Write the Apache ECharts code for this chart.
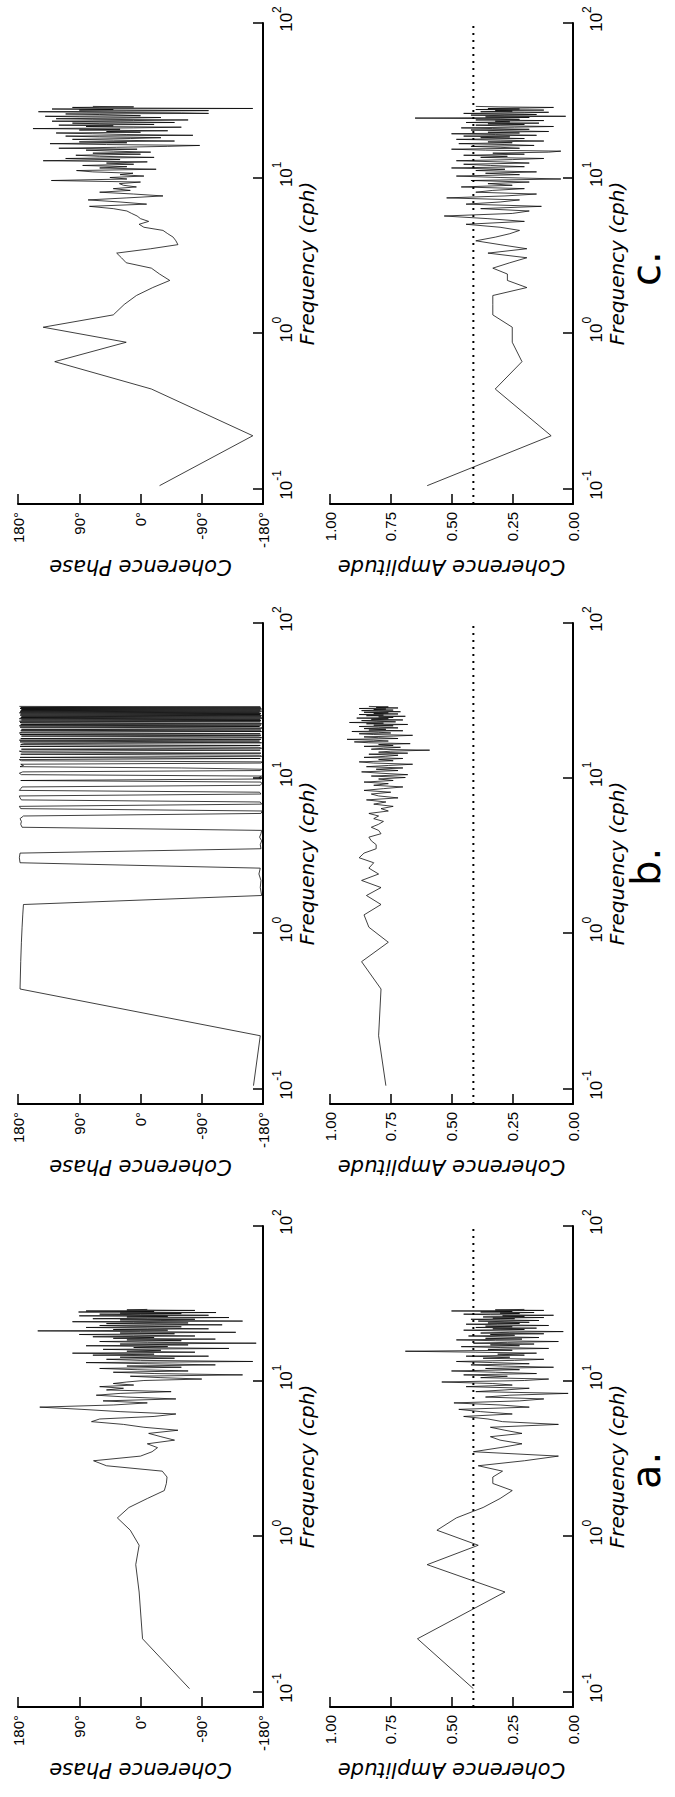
<!DOCTYPE html>
<html><head><meta charset="utf-8">
<script src="https://cdn.jsdelivr.net/npm/echarts@6/dist/echarts.min.js"></script>
<style>
html,body{margin:0;padding:0;width:675px;height:1797px;overflow:hidden;background:#fff;}
#rot{position:absolute;left:0;top:0;width:1797px;height:675px;transform-origin:0 0;transform:translateY(1797px) rotate(-90deg);}
#chart{width:1797px;height:675px;background:#fff;}
</style></head><body>
<div id="rot"><div id="chart"></div></div>
<script>
// ---- data (frequency in cph) ----
const freq = [0.105,0.22,0.44,0.66,0.88,1.10,1.32,1.54,1.76,1.98,
2.20,2.42,2.64,2.86,3.08,3.30,3.52,3.74,3.96,4.18,
4.40,4.62,4.84,5.06,5.28,5.50,5.72,5.94,6.16,6.38,
6.60,6.82,7.04,7.26,7.48,7.70,7.92,8.14,8.36,8.58,
8.80,9.02,9.24,9.46,9.68,9.90,10.12,10.34,10.56,10.78,
11.00,11.22,11.44,11.66,11.88,12.10,12.32,12.54,12.76,12.98,
13.20,13.42,13.64,13.86,14.08,14.30,14.52,14.74,14.96,15.18,
15.40,15.62,15.84,16.06,16.28,16.50,16.72,16.94,17.16,17.38,
17.60,17.82,18.04,18.26,18.48,18.70,18.92,19.14,19.36,19.58,
19.80,20.02,20.24,20.46,20.68,20.90,21.12,21.34,21.56,21.78,
22.00,22.22,22.44,22.66,22.88,23.10,23.32,23.54,23.76,23.98,
24.20,24.42,24.64,24.86,25.08,25.30,25.52,25.74,25.96,26.18,
26.40,26.62,26.84,27.06,27.28,27.50,27.72,27.94,28.16,28.38,
28.60,28.82,29.04];

const phaseA = [-72,-3,2,7,2,15,34,17,-10,-35,
-38,-39,-32,50,69,0,-17,-25,-10,-50,
-30,-12,-55,-5,25,72,60,-20,-52,30,
86,148,40,-10,55,-52,20,65,30,-45,
50,25,60,10,40,20,-5,-90,-30,15,
-150,-20,40,-70,5,60,-60,20,-110,-10,
80,-165,0,50,-50,30,-100,70,-20,100,
-80,20,-30,55,-130,10,-40,80,-70,30,
-170,-10,60,-60,20,-110,40,-20,70,-80,
10,90,-50,30,-140,0,151,-40,40,-100,
-10,80,-60,20,60,-120,-20,50,-70,10,
100,-150,-30,30,-80,70,-10,-130,20,-40,
90,-100,0,60,-60,30,-111,91,-20,80,
-80,20,-10];

const ampA = [0.41,0.64,0.28,0.60,0.39,0.56,0.48,0.37,0.30,0.25,
0.33,0.33,0.29,0.39,0.20,0.06,0.41,0.30,0.21,0.30,
0.34,0.21,0.28,0.34,0.06,0.29,0.35,0.45,0.25,0.38,
0.47,0.18,0.30,0.49,0.22,0.12,0.36,0.26,0.02,0.40,
0.28,0.18,0.44,0.25,0.33,0.54,0.20,0.10,0.38,0.27,
0.45,0.15,0.32,0.50,0.22,0.36,0.08,0.29,0.42,0.18,
0.33,0.48,0.24,0.12,0.37,0.26,0.44,0.20,0.31,0.15,
0.40,0.69,0.25,0.35,0.10,0.30,0.46,0.22,0.34,0.16,
0.41,0.27,0.06,0.32,0.48,0.21,0.36,0.14,0.30,0.43,
0.24,0.34,0.12,0.38,0.26,0.04,0.30,0.45,0.20,0.33,
0.15,0.40,0.25,0.36,0.10,0.31,0.44,0.22,0.35,0.18,
0.28,0.39,0.14,0.30,0.42,0.24,0.33,0.12,0.37,0.20,
0.29,0.08,0.34,0.45,0.22,0.30,0.16,0.38,0.25,0.50,
0.12,0.32,0.20];

const phaseB = [-166,-176,177,176,175,174,173,172,-178,-176,
-177,-174,-176,177,178,177,-177,-176,-178,-175,
-177,-178,174,176,175,177,172,-177,-179,176,
178,-178,-176,175,177,178,-177,-175,178,176,
174,-176,-178,-177,176,-177,-174,-178,175,178,
173,-176,-178,-60,177,172,176,-177,-179,175,
178,-176,177,-178,-175,176,-177,174,178,-176,
175,-178,-173,177,-176,176,172,-178,177,-175,
178,-177,176,-178,-174,175,-177,177,-176,178,
174,-178,176,-177,175,-176,-179,177,-175,178,
-177,176,-178,174,177,-176,178,-177,175,-176,
178,-179,176,-177,175,-178,177,-176,176,-177,
178,-175,177,-178,176,-176,175,-178,177,-177,
176,-176,178];

const ampB = [0.77,0.80,0.79,0.87,0.76,0.84,0.86,0.79,0.85,0.79,
0.87,0.80,0.84,0.82,0.88,0.86,0.81,0.81,0.83,0.84,
0.79,0.80,0.83,0.80,0.78,0.82,0.80,0.84,0.76,0.79,
0.74,0.82,0.77,0.85,0.72,0.80,0.83,0.75,0.86,0.78,
0.70,0.82,0.76,0.86,0.74,0.80,0.69,0.83,0.68,0.79,
0.87,0.72,0.81,0.70,0.85,0.76,0.66,0.82,0.88,0.74,
0.80,0.70,0.86,0.77,0.72,0.84,0.68,0.80,0.75,0.59,
0.83,0.78,0.71,0.86,0.74,0.80,0.67,0.84,0.90,0.76,
0.82,0.93,0.72,0.80,0.86,0.74,0.66,0.82,0.88,0.75,
0.80,0.91,0.70,0.84,0.77,0.86,0.72,0.80,0.88,0.74,
0.82,0.68,0.85,0.78,0.92,0.73,0.81,0.87,0.70,0.83,
0.76,0.89,0.74,0.80,0.69,0.85,0.78,0.88,0.72,0.82,
0.76,0.86,0.71,0.80,0.87,0.74,0.82,0.77,0.88,0.72,
0.81,0.76,0.84];

const phaseC = [-28,-165,-16,126,21,143,40,24,6,-18,
-43,-28,-16,21,28,35,-15,-55,-52,-48,
-40,-33,-5,2,-12,0,5,13,20,40,
75,-9,30,77,20,-33,10,60,15,40,
6,25,31,0,131,20,45,-5,30,11,
70,94,-23,60,20,85,10,50,-10,143,
30,110,-20,60,95,0,70,-15,40,80,
5,120,35,-40,-87,50,133,20,90,-50,
40,100,15,-30,60,110,-77,20,70,124,
0,50,-40,90,30,158,10,-60,80,40,
120,-20,60,100,-50,30,130,10,-70,70,
124,20,-30,90,140,0,0,60,110,-100,
-60,80,150,20,-100,90,40,130,-165,60,
100,10,70];

const ampC = [0.60,0.09,0.32,0.21,0.25,0.25,0.33,0.33,0.33,0.19,
0.27,0.27,0.33,0.26,0.19,0.35,0.19,0.30,0.40,0.32,
0.26,0.22,0.30,0.44,0.20,0.35,0.53,0.25,0.18,0.38,
0.13,0.44,0.30,0.22,0.52,0.28,0.15,0.40,0.33,0.20,
0.46,0.25,0.35,0.18,0.42,0.05,0.30,0.48,0.22,0.36,
0.15,0.40,0.28,0.50,0.20,0.34,0.45,0.18,0.30,0.48,
0.25,0.12,0.38,0.27,0.45,0.20,0.33,0.10,0.05,0.36,
0.50,0.22,0.30,0.42,0.16,0.28,0.47,0.25,0.35,0.12,
0.30,0.48,0.20,0.38,0.26,0.45,0.15,0.32,0.50,0.22,
0.35,0.10,0.28,0.42,0.18,0.33,0.46,0.24,0.08,0.30,
0.40,0.20,0.35,0.14,0.44,0.26,0.32,0.12,0.40,0.22,
0.30,0.65,0.18,0.36,0.03,0.28,0.42,0.15,0.30,0.45,
0.20,0.10,0.38,0.25,0.32,0.12,0.40,0.22,0.35,0.18,
0.08,0.30,0.40];

const threshold = 0.41;              // dotted significance level
const freqRange = [0.08, 100];
const panelLabels = ['a.', 'b.', 'c.'];
const phaseAxisName = 'Coherence Phase';
const ampAxisName = 'Coherence Amplitude';
const freqAxisName = 'Frequency (cph)';

// ---- layout (landscape frame, rotated by CSS) ----
const panelLeft = [90, 693, 1293];
const plotW = 481;
const phaseTop = 18, phaseH = 245;
const ampTop = 330, ampH = 243;

const panels = [
  {phase: phaseA, amp: ampA},
  {phase: phaseB, amp: ampB},
  {phase: phaseC, amp: ampC}
];

const BLACK = '#000';
const numFont = 'Liberation Sans';
const nameFont = 'DejaVu Sans';

function fmtFreq(v) {
  const e = Math.log10(v);
  const r = Math.round(e);
  if (Math.abs(e - r) > 1e-6) return '';
  return '{n|10}{s|' + r + '}';
}

const grids = [], xAxes = [], yAxes = [], series = [], graphics = [];

panels.forEach((p, i) => {
  [['phase', phaseTop, phaseH], ['amp', ampTop, ampH]].forEach(([kind, top, h]) => {
    const gi = grids.length;
    grids.push({left: panelLeft[i], top: top, width: plotW, height: h, containLabel: false, outerBoundsMode: 'none'});
    xAxes.push({
      gridIndex: gi, type: 'log', logBase: 10, min: freqRange[0], max: freqRange[1],
      axisLine: {show: true, onZero: false, lineStyle: {color: BLACK, width: 2}},
      axisTick: {show: true, inside: true, length: 10, lineStyle: {color: BLACK, width: 1.5}},
      minorTick: {show: false}, splitLine: {show: false}, minorSplitLine: {show: false},
      axisLabel: {show: true, margin: 8, formatter: fmtFreq, color: BLACK,
        rich: {
          n: {fontFamily: numFont, fontSize: 17, color: BLACK, lineHeight: 24, verticalAlign: 'bottom', padding: [0, 0, 0, 8]},
          s: {fontFamily: numFont, fontSize: 12, color: BLACK, lineHeight: 12, verticalAlign: 'top'}
        }},
      name: freqAxisName, nameLocation: 'middle', nameGap: 34,
      nameTextStyle: {fontFamily: nameFont, fontStyle: 'italic', fontSize: 20, color: BLACK}
    });
    const isPhase = kind === 'phase';
    yAxes.push({
      gridIndex: gi, type: 'value',
      min: isPhase ? -180 : 0, max: isPhase ? 180 : 1, interval: isPhase ? 90 : 0.25,
      axisLine: {show: true, onZero: false, lineStyle: {color: BLACK, width: 2}},
      axisTick: {show: true, inside: true, length: 10, lineStyle: {color: BLACK, width: 1.5}},
      splitLine: {show: false},
      axisLabel: {show: true, margin: 8, color: BLACK, fontFamily: numFont, fontSize: 15,
        formatter: isPhase ? (v => v + '°') : (v => v.toFixed(2))},
      name: isPhase ? phaseAxisName : ampAxisName, nameLocation: 'middle', nameGap: 52,
      nameTextStyle: {fontFamily: nameFont, fontStyle: 'italic', fontSize: 21, color: BLACK}
    });
    const vals = isPhase ? p.phase : p.amp;
    series.push({
      type: 'line', xAxisIndex: gi, yAxisIndex: gi, showSymbol: false, symbol: 'none',
      data: freq.map((f, k) => [f, vals[k]]),
      lineStyle: {color: BLACK, width: 0.75}, silent: true, animation: false
    });
    if (!isPhase) {
      series.push({
        type: 'line', xAxisIndex: gi, yAxisIndex: gi, showSymbol: false, symbol: 'none',
        data: [[freqRange[0], threshold], [freqRange[1], threshold]],
        lineStyle: {color: BLACK, width: 2, type: [2, 5]}, silent: true, animation: false
      });
    }
  });
  graphics.push({
    type: 'text', left: panelLeft[i] + 218, top: 626,
    style: {text: panelLabels[i], fontFamily: nameFont, fontSize: 40, fill: BLACK}
  });
});

const chart = echarts.init(document.getElementById('chart'), null, {renderer: 'svg'});
chart.setOption({
  backgroundColor: '#fff',
  animation: false,
  grid: grids, xAxis: xAxes, yAxis: yAxes, series: series, graphic: graphics
});
</script>
</body></html>
